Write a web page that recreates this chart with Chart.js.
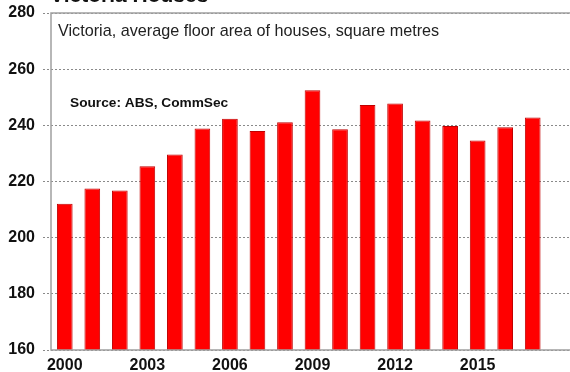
<!DOCTYPE html>
<html>
<head>
<meta charset="utf-8">
<script src="https://cdn.jsdelivr.net/npm/chart.js@4/dist/chart.umd.min.js"></script>
<style>
  html, body { margin: 0; padding: 0; background: #fff; overflow: hidden; }
  #wrap { position: relative; width: 574px; height: 372px; }
</style>
</head>
<body>
<div id="wrap"><canvas id="c" width="574" height="372"></canvas></div>
<script>
// Victoria, average floor area of new houses (square metres)
const years = ['2000','2001','2002','2003','2004','2005','2006','2007','2008',
               '2009','2010','2011','2012','2013','2014','2015','2016','2017','2018'];
const floorArea = [212.1, 217.5, 216.8, 225.4, 229.6, 238.9, 242.3, 238.0, 241.1,
                   252.5, 238.6, 247.2, 247.8, 241.7, 239.8, 234.6, 239.3, 242.8, null];
const yTicks = [160, 180, 200, 220, 240, 260, 280];
const shownYears = ['2000','2003','2006','2009','2012','2015'];

const chartTitle = 'Victoria Houses';
const subtitle = 'Victoria, average floor area of houses, square metres';
const sourceNote = 'Source: ABS, CommSec';

const annotations = {
  id: 'annotations',
  afterDraw(chart) {
    const { ctx, chartArea } = chart;
    ctx.save();
    // solid frame: top, left and bottom edges of the plot
    ctx.strokeStyle = '#a0a0a0';
    ctx.lineWidth = 1.5;
    ctx.setLineDash([]);
    ctx.beginPath();
    ctx.moveTo(chartArea.right + 5, chartArea.top);
    ctx.lineTo(chartArea.left, chartArea.top);
    ctx.lineTo(chartArea.left, chartArea.bottom);
    ctx.lineTo(chartArea.right + 5, chartArea.bottom);
    ctx.stroke();
    // heading
    ctx.fillStyle = '#111';
    ctx.textBaseline = 'alphabetic';
    ctx.font = 'bold 21px "Liberation Sans", Arial, sans-serif';
    ctx.fillText(chartTitle, 50, 2);
    // in-plot labels
    ctx.fillStyle = '#222';
    ctx.font = '16.2px "Liberation Sans", Arial, sans-serif';
    ctx.fillText(subtitle, 58, 36);
    ctx.fillStyle = '#111';
    ctx.font = 'bold 13.7px "Liberation Sans", Arial, sans-serif';
    ctx.fillText(sourceNote, 70, 107);
    ctx.restore();
  }
};

new Chart(document.getElementById('c'), {
  type: 'bar',
  data: {
    labels: years,
    datasets: [{
      data: floorArea,
      backgroundColor: '#ff0000',
      borderColor: '#c00000',
      borderWidth: 1,
      borderSkipped: 'bottom',
      barPercentage: 0.57,
      categoryPercentage: 1.0
    }]
  },
  options: {
    responsive: false,
    animation: false,
    layout: { padding: { top: 13, right: 0, left: 0, bottom: 0 } },
    plugins: { legend: { display: false }, tooltip: { enabled: false } },
    scales: {
      x: {
        grid: { display: false, drawTicks: false },
        border: { display: false },
        ticks: {
          autoSkip: false,
          maxRotation: 0,
          padding: 6,
          color: '#111',
          font: { family: '"Liberation Sans", Arial, sans-serif', size: 16, weight: 'bold' },
          callback(value) {
            const lab = this.getLabelForValue(value);
            return shownYears.includes(lab) ? lab : '';
          }
        },
        afterFit(scale) { scale.height = 22; scale.paddingLeft = 0; scale.paddingRight = 0; }
      },
      y: {
        min: 160,
        max: 280,
        afterBuildTicks(scale) { scale.ticks = yTicks.map(v => ({ value: v })); },
        grid: {
          color: '#8a8a8a',
          lineWidth: 1,
          tickBorderDash: [2, 2],
          tickLength: 8,
          drawTicks: true
        },
        border: { display: false, dash: [2, 2] },
        ticks: {
          padding: 8,
          color: '#111',
          font: { family: '"Liberation Sans", Arial, sans-serif', size: 16, weight: 'bold' }
        },
        afterFit(scale) { scale.width = 51; scale.paddingTop = 0; scale.paddingBottom = 0; }
      }
    }
  },
  plugins: [annotations]
});
</script>
</body>
</html>
